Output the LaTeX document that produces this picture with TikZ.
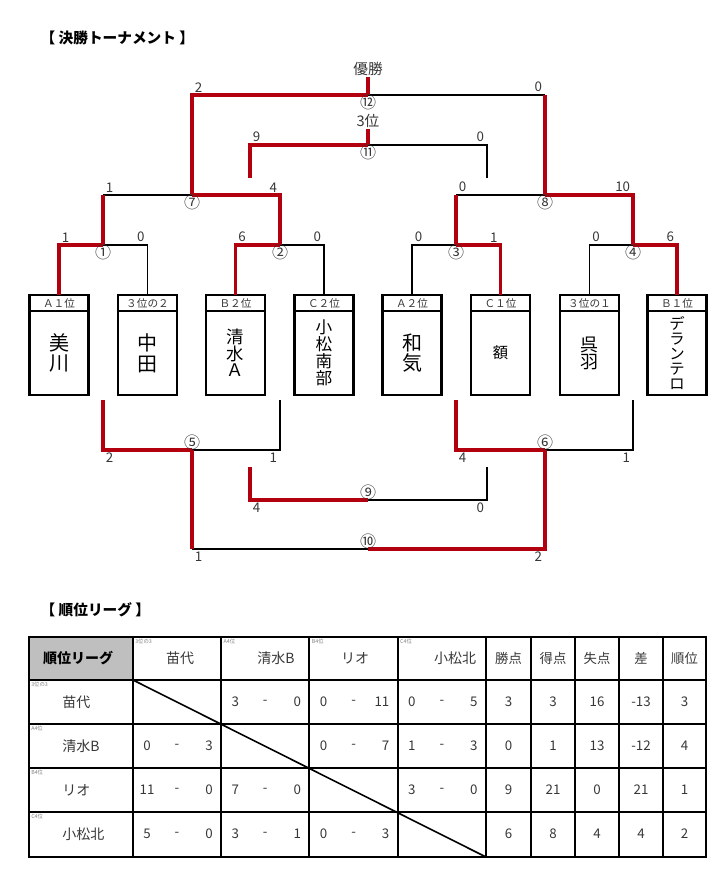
\documentclass[tikz,border=0pt]{standalone}
\usepackage{fontspec}
\setmainfont{Noto Sans CJK JP}
\usetikzlibrary{positioning}

\definecolor{winred}{RGB}{178,0,14}
\definecolor{ink}{RGB}{55,55,55}
\definecolor{headgray}{RGB}{191,191,191}

\tikzset{
    win/.style={draw=winred, line width=2.8pt},
    lose/.style={draw=black, line width=1.1pt},
    teamhead/.style={draw, line width=2pt, outer sep=0pt, inner sep=0pt,
        minimum width=44.25pt, minimum height=12pt,
        font=\fontsize{8}{8}\selectfont, text=ink},
    teambody/.style={draw, line width=2pt, outer sep=0pt, inner sep=0pt,
        minimum width=44.25pt, minimum height=63pt, align=center},
    score/.style={font=\fontsize{10}{10}\selectfont, text=ink, inner sep=2pt},
    matchno/.style={font=\fontsize{12}{12}\selectfont, text=ink, inner sep=0pt},
    heading/.style={anchor=west, font=\bfseries\fontsize{11}{11}\selectfont},
    tablerule/.style={line width=1.6pt},
    cell/.style={font=\fontsize{10}{10}\selectfont, text=ink, inner sep=0pt},
    tag/.style={anchor=north west, font=\fontsize{4}{4}\selectfont, text=black!50, inner sep=0pt}
}

\begin{document}
\begin{tikzpicture}[x=0.75pt, y=-0.75pt]
    \useasboundingbox (0,0) rectangle (726,895);

    % Headings
    \node[heading] (title1) at (36,38) {【 決勝トーナメント 】};
    \node[heading] (title2) at (36,610) {【 順位リーグ 】};

    % Team boxes
    \foreach \i/\x/\hd/\nm/\fs/\bs in {
        1/59/Ａ１位/{美\\川}/15/15.5,
        2/147.5/３位の２/{中\\田}/15/15.5,
        3/235.5/Ｂ２位/{清\\水\\Ａ}/13/12.4,
        4/324/Ｃ２位/{小\\松\\南\\部}/12.5/12.75,
        5/412/Ａ２位/{和\\気}/15/15.5,
        6/500.5/Ｃ１位/{額}/11.5/12,
        7/589.5/３位の１/{呉\\羽}/13.5/12.75,
        8/677/Ｂ１位/{デ\\ラ\\ン\\テ\\ロ}/11.5/11.25}
    {
        \node[teamhead] (h\i) at (\x,303) {\hd};
        \node[teambody, below=0pt of h\i, font=\fontsize{\fs}{\bs}\selectfont] (t\i) {\nm};
    }

    % Match points
    \coordinate (m1) at (103,245);
    \coordinate (m2) at (280,245);
    \coordinate (m3) at (456,245);
    \coordinate (m4) at (633,245);
    \coordinate (m7) at (192,195);
    \coordinate (m8) at (545,195);
    \coordinate (m12) at (368,95);
    \coordinate (m11) at (368,145);
    \coordinate (l7) at (250,178);
    \coordinate (l8) at (487,178);
    \coordinate (q1) at (103,400);
    \coordinate (q2) at (280,400);
    \coordinate (q3) at (456,400);
    \coordinate (q4) at (633,400);
    \coordinate (m5) at (192,450);
    \coordinate (m6) at (545,450);
    \coordinate (r5) at (250,467);
    \coordinate (r6) at (487,467);
    \coordinate (m9) at (368,500);
    \coordinate (m10) at (368,549);

    \node[font=\fontsize{11}{11}\selectfont, text=ink, inner sep=1pt] (champ) at (368,69) {優勝};
    \node[font=\fontsize{11}{11}\selectfont, text=ink, inner sep=1pt] (third) at (368,121) {3位};

    % Losing sides
    \draw[lose] (h2.north) |- (m1);
    \draw[lose] (h4.north) |- (m2);
    \draw[lose] (h5.north) |- (m3);
    \draw[lose] (h7.north) |- (m4);
    \draw[lose] (m1 |- m7) -- (m7);
    \draw[lose] (m3 |- m8) -- (m8);
    \draw[lose] (m8 |- m12) -- (m12);
    \draw[lose] (l8) |- (m11);
    \draw[lose] (q2) |- (m5);
    \draw[lose] (q4) |- (m6);
    \draw[lose] (r6) |- (m9);
    \draw[lose] (m5 |- m10) -- (m10);

    % Winning sides
    \draw[win] (h1.north) |- (m1);
    \draw[win] (h3.north) |- (m2);
    \draw[win] (h6.north) |- (m3);
    \draw[win] (h8.north) |- (m4);
    \draw[win] (m1) -- (m1 |- m7);
    \draw[win] (m2) |- (m7);
    \draw[win] (m3) -- (m3 |- m8);
    \draw[win] (m4) |- (m8);
    \draw[win] (m7) |- (m12);
    \draw[win] (m8) -- (m8 |- m12);
    \draw[win] (m12) -- (champ.south);
    \draw[win] (l7) |- (m11);
    \draw[win] (m11) -- (third.south);
    \draw[win] (q1) |- (m5);
    \draw[win] (q3) |- (m6);
    \draw[win] (r5) |- (m9);
    \draw[win] (m5) -- (m5 |- m10);
    \draw[win] (m6) |- (m10);

    % Scores
    \foreach \p/\v/\k [count=\i] in {
        h1.north |- m1/1/south west, h2.north |- m1/0/south east,
        h3.north |- m2/6/south west, h4.north |- m2/0/south east,
        h5.north |- m3/0/south west, h6.north |- m3/1/south east,
        h7.north |- m4/0/south west, h8.north |- m4/6/south east,
        m1 |- m7/1/south west, m2 |- m7/4/south east,
        m3 |- m8/0/south west, m4 |- m8/10/south east,
        m7 |- m12/2/south west, m8 |- m12/0/south east,
        l7 |- m11/9/south west, l8 |- m11/0/south east,
        q1 |- m5/2/north west, q2 |- m5/1/north east,
        q3 |- m6/4/north west, q4 |- m6/1/north east,
        r5 |- m9/4/north west, r6 |- m9/0/north east,
        m5 |- m10/1/north west, m6 |- m10/2/north east}
        \node[score, anchor=\k] (s\i) at (\p) {\v};

    % Match numbers
    \foreach \p/\v/\k [count=\i] in {
        m1/①/north, m2/②/north, m3/③/north, m4/④/north,
        m7/⑦/north, m8/⑧/north, m11/⑪/north, m12/⑫/north,
        m5/⑤/south, m6/⑥/south, m9/⑨/south, m10/⑩/south}
        \node[matchno, anchor=\k] (no\i) at (\p) {\v};

    % League table
    \fill[headgray] (29,637) rectangle (133,680);
    \foreach \x in {133,221,309,398,486,531,575,619,663}
        \draw[tablerule] (\x,637) -- (\x,857);
    \foreach \y in {680,724,768,812}
        \draw[tablerule] (29,\y) -- (706,\y);
    \draw[line width=2pt] (29,637) rectangle (706,857);
    \draw[line width=1.2pt] (133,680) -- (486,857);

    \node[font=\bfseries\fontsize{10.5}{10.5}\selectfont] (corner) at (78,658) {順位リーグ};

    \foreach \x/\nm/\tg [count=\i] in {180/苗代/3位の3, 276/清水B/A4位, 355/リオ/B4位, 455/小松北/C4位}
    {
        \node[cell, font=\fontsize{10.5}{10.5}\selectfont] (col\i) at (\x,658) {\nm};
        \node[tag] (coltag\i) at (135+88.3*\i-88.3,639) {\tg};
        \node[cell, anchor=west, font=\fontsize{10.5}{10.5}\selectfont] (row\i) at (62,658+44*\i) {\nm};
        \node[tag] (rowtag\i) at (31,638+44*\i) {\tg};
    }

    \foreach \x/\nm [count=\i] in {508.5/勝点, 553/得点, 597/失点, 641/差, 684.5/順位}
        \node[cell] (stat\i) at (\x,658) {\nm};

    % Results
    \foreach \r/\c/\a/\b in {1/2/3/0, 1/3/0/11, 1/4/0/5, 2/1/0/3, 2/3/0/7, 2/4/1/3,
        3/1/11/0, 3/2/7/0, 3/4/3/0, 4/1/5/0, 4/2/3/1, 4/3/0/3}
    {
        \pgfmathsetmacro\cx{133+88.3*(\c-1)}
        \node[cell] (a\r\c) at (\cx+14,658+44*\r) {\a};
        \node[cell] (d\r\c) at (\cx+44,658+44*\r) {-};
        \node[cell, anchor=east] (b\r\c) at (\cx+80,658+44*\r) {\b};
    }

    \foreach \r/\w/\g/\l/\d/\p in {1/3/3/16/-13/3, 2/0/1/13/-12/4, 3/9/21/0/21/1, 4/6/8/4/4/2}
    {
        \node[cell] (w\r) at (508.5,658+44*\r) {\w};
        \node[cell] (g\r) at (553,658+44*\r) {\g};
        \node[cell] (l\r) at (597,658+44*\r) {\l};
        \node[cell] (df\r) at (641,658+44*\r) {\d};
        \node[cell] (rk\r) at (684.5,658+44*\r) {\p};
    }
\end{tikzpicture}
\end{document}
